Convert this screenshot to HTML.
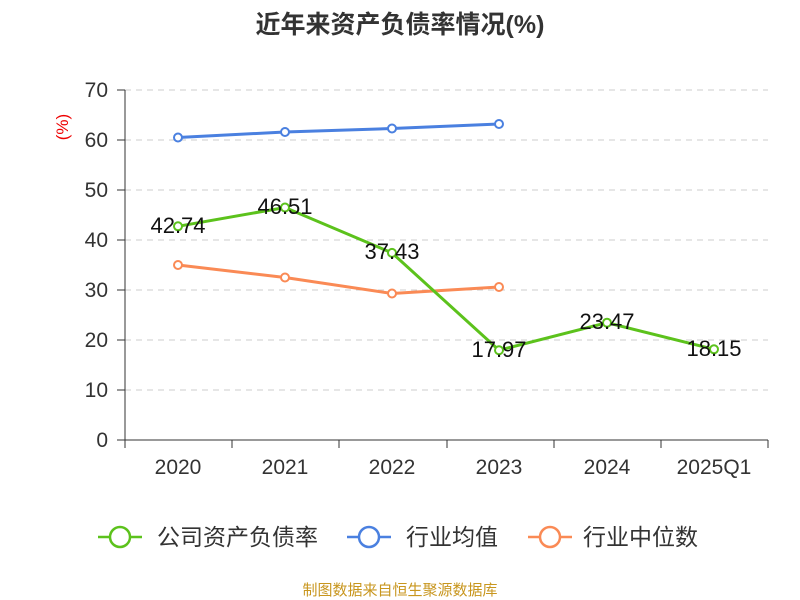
<!DOCTYPE html>
<html><head><meta charset="utf-8"><style>body{margin:0;background:#fff}svg{display:block}</style></head><body>
<svg width="800" height="600" xmlns="http://www.w3.org/2000/svg" font-family="Liberation Sans, Noto Sans CJK SC, sans-serif">
<text x="400" y="33" text-anchor="middle" font-size="25" font-weight="bold" fill="#333">近年来资产负债率情况(%)</text>
<text x="68" y="127" fill="#e00" font-size="17" transform="rotate(-90 68 127)" text-anchor="middle">(%)</text>
<g stroke="#ccc" stroke-dasharray="6,5">
<line x1="125" x2="768" y1="90" y2="90"/><line x1="125" x2="768" y1="140" y2="140"/><line x1="125" x2="768" y1="190" y2="190"/><line x1="125" x2="768" y1="240" y2="240"/><line x1="125" x2="768" y1="290" y2="290"/><line x1="125" x2="768" y1="340" y2="340"/><line x1="125" x2="768" y1="390" y2="390"/></g>
<g stroke="#333"><line x1="125" x2="125" y1="90" y2="440"/><line x1="125" x2="768" y1="440" y2="440"/>
<line x1="117" x2="125" y1="90" y2="90"/><line x1="117" x2="125" y1="140" y2="140"/><line x1="117" x2="125" y1="190" y2="190"/><line x1="117" x2="125" y1="240" y2="240"/><line x1="117" x2="125" y1="290" y2="290"/><line x1="117" x2="125" y1="340" y2="340"/><line x1="117" x2="125" y1="390" y2="390"/><line x1="117" x2="125" y1="440" y2="440"/>
<line x1="125" x2="125" y1="440" y2="448"/><line x1="232" x2="232" y1="440" y2="448"/><line x1="339" x2="339" y1="440" y2="448"/><line x1="447" x2="447" y1="440" y2="448"/><line x1="554" x2="554" y1="440" y2="448"/><line x1="661" x2="661" y1="440" y2="448"/><line x1="768" x2="768" y1="440" y2="448"/></g>
<g font-size="21" fill="#333" text-anchor="end"><text x="108" y="97">70</text><text x="108" y="147">60</text><text x="108" y="197">50</text><text x="108" y="247">40</text><text x="108" y="297">30</text><text x="108" y="347">20</text><text x="108" y="397">10</text><text x="108" y="447">0</text></g>
<g font-size="21" fill="#333" text-anchor="middle"><text x="178" y="474">2020</text><text x="285" y="474">2021</text><text x="392" y="474">2022</text><text x="499" y="474">2023</text><text x="607" y="474">2024</text><text x="714" y="474">2025Q1</text></g>
<polyline fill="none" stroke="#4a80e0" stroke-width="3" points="178,137.5 285,132 392,128.5 499,124"/>
<polyline fill="none" stroke="#fa8a55" stroke-width="3" points="178,265 285,277.5 392,293.5 499,287"/>
<polyline fill="none" stroke="#5cc21c" stroke-width="3" points="178,226.3 285,207.5 392,252.9 499,350.2 607,322.7 714,349.3"/>
<g fill="#fff" stroke="#4a80e0" stroke-width="2"><circle cx="178" cy="137.5" r="4"/><circle cx="285" cy="132" r="4"/><circle cx="392" cy="128.5" r="4"/><circle cx="499" cy="124" r="4"/></g>
<g fill="#fff" stroke="#fa8a55" stroke-width="2"><circle cx="178" cy="265" r="4"/><circle cx="285" cy="277.5" r="4"/><circle cx="392" cy="293.5" r="4"/><circle cx="499" cy="287" r="4"/></g>
<g fill="#fff" stroke="#5cc21c" stroke-width="2"><circle cx="178" cy="226.3" r="4"/><circle cx="285" cy="207.5" r="4"/><circle cx="392" cy="252.9" r="4"/><circle cx="499" cy="350.2" r="4"/><circle cx="607" cy="322.7" r="4"/><circle cx="714" cy="349.3" r="4"/></g>
<g font-size="22" fill="#111" text-anchor="middle"><text x="178" y="233">42.74</text><text x="285" y="214">46.51</text><text x="392" y="259">37.43</text><text x="499" y="357">17.97</text><text x="607" y="329">23.47</text><text x="714" y="356">18.15</text></g>
<g stroke-width="2.5" fill="#fff">
<line x1="98" x2="142" y1="537" y2="537" stroke="#5cc21c"/><circle cx="120" cy="537" r="10" stroke="#5cc21c"/>
<line x1="347" x2="391" y1="537" y2="537" stroke="#4a80e0"/><circle cx="369" cy="537" r="10" stroke="#4a80e0"/>
<line x1="528" x2="572" y1="537" y2="537" stroke="#fa8a55"/><circle cx="550" cy="537" r="10" stroke="#fa8a55"/></g>
<g font-size="23" fill="#333"><text x="157" y="545">公司资产负债率</text><text x="406" y="545">行业均值</text><text x="583" y="545">行业中位数</text></g>
<text x="400" y="595" text-anchor="middle" font-size="15" fill="#c8961e">制图数据来自恒生聚源数据库</text>
</svg></body></html>
